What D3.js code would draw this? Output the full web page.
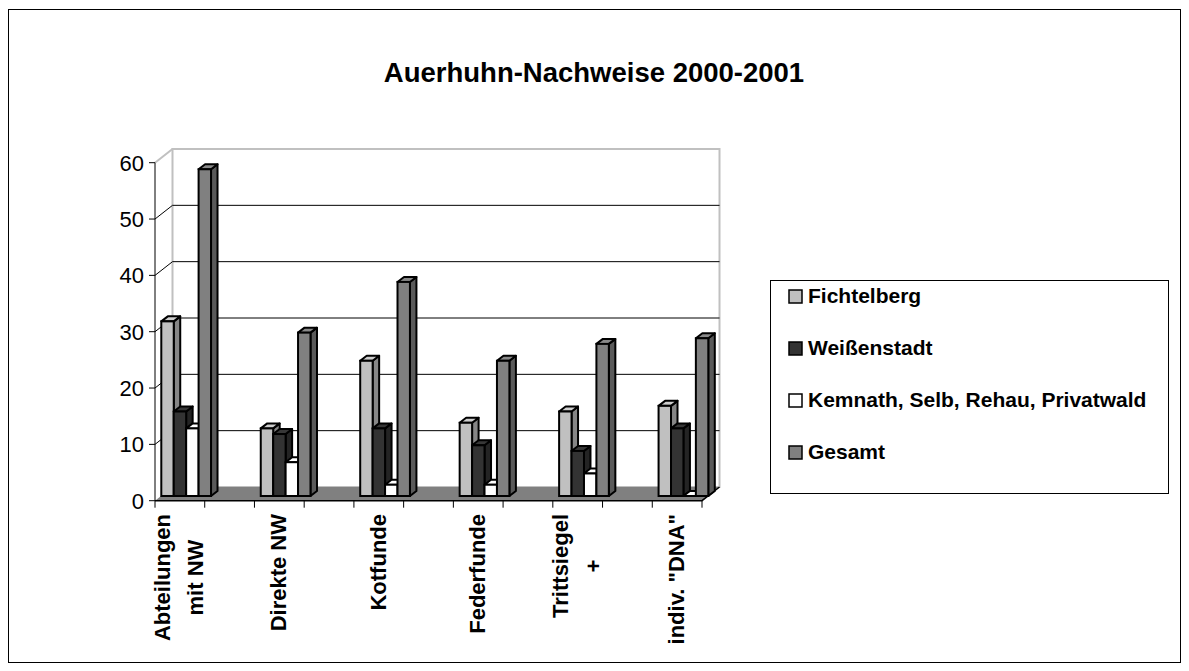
<!DOCTYPE html>
<html>
<head>
<meta charset="utf-8">
<script src="https://cdn.jsdelivr.net/npm/d3@7"></script>
<style>
  body { margin: 0; background: #fff; }
  svg text { font-family: "Liberation Sans", Arial, sans-serif; fill: #000; }
</style>
</head>
<body>
<div id="chart"></div>
<script>
// data
const categories = [["Abteilungen", "mit NW"], ["Direkte NW"], ["Kotfunde"], ["Federfunde"], ["Trittsiegel", "+"], ['indiv. "DNA"']];
const seriesNames = ["Fichtelberg", "Weißenstadt", "Kemnath, Selb, Rehau, Privatwald", "Gesamt"];
const fichtelberg = [31, 12, 24, 13, 15, 16];
const weissenstadt = [15, 11, 12, 9, 8, 12];
const kemnath = [12, 6, 2, 2, 4, 0];
const gesamt = [58, 29, 38, 24, 27, 28];
const yTicks = [0, 10, 20, 30, 40, 50, 60];
const colors = ["#c0c0c0", "#333333", "#ffffff", "#808080"];

const series = [fichtelberg, weissenstadt, kemnath, gesamt];

const W = 1189, H = 671;

const svg = d3.select("#chart").append("svg")
  .attr("width", W).attr("height", H);

// outer frame
svg.append("rect")
  .attr("x", 8.5).attr("y", 9.5)
  .attr("width", 1172).attr("height", 653)
  .attr("fill", "none").attr("stroke", "#000").attr("stroke-width", 1);

// title
svg.append("text")
  .attr("x", 594).attr("y", 82)
  .attr("text-anchor", "middle")
  .style("font-size", "27.5px").style("font-weight", "bold")
  .text("Auerhuhn-Nachweise 2000-2001");

// front plane scales
const x = d3.scaleBand()
  .domain(d3.range(categories.length))
  .range([155, 702])
  .paddingInner(0.5)
  .paddingOuter(0);
const y = d3.scaleLinear().domain([0, 60]).range([500.7, 162.7]);

// depth offsets: back wall, bar plane, bar thickness
const DX = 17.5, DY = -13.7;
const BX = 6.3, BY = -4.7;
const TX = 6.5, TY = -5;

const x0 = x.range()[0], x1 = x.range()[1];

// back wall
svg.append("rect")
  .attr("x", x0 + DX).attr("y", y(60) + DY)
  .attr("width", x1 - x0).attr("height", y(0) - y(60))
  .attr("fill", "#fff").attr("stroke", "#c0c0c0").attr("stroke-width", 2);

// gridlines on back wall and side wall
const grid = yTicks.filter(d => d > 0 && d < 60);
svg.append("g").selectAll("line").data(grid).enter().append("line")
  .attr("x1", x0 + DX).attr("x2", x1 + DX)
  .attr("y1", d => y(d) + DY).attr("y2", d => y(d) + DY)
  .attr("stroke", "#000").attr("stroke-width", 1);
svg.append("g").selectAll("line").data(yTicks.filter(d => d > 0)).enter().append("line")
  .attr("x1", x0).attr("x2", x0 + DX)
  .attr("y1", d => y(d)).attr("y2", d => y(d) + DY)
  .attr("stroke", d => d === 60 ? "#c0c0c0" : "#000")
  .attr("stroke-width", d => d === 60 ? 2 : 1);

// floor
svg.append("path")
  .attr("d", "M" + x0 + "," + y(0) + "L" + x1 + "," + y(0) +
    "L" + (x1 + DX) + "," + (y(0) + DY) + "L" + (x0 + DX) + "," + (y(0) + DY) + "Z")
  .attr("fill", "#808080").attr("stroke", "none");
svg.append("path")
  .attr("d", "M" + x0 + "," + y(0) + "L" + x1 + "," + y(0) + "L" + (x1 + DX) + "," + (y(0) + DY))
  .attr("fill", "none").attr("stroke", "#000").attr("stroke-width", 1.5);

// bars
const bw = x.bandwidth() / series.length;
const yb = v => y(v) + BY;
const bars = [];
categories.forEach((c, i) => {
  series.forEach((s, j) => {
    bars.push({ i: i, j: j, v: s[i] });
  });
});

const barG = svg.append("g").selectAll("g").data(bars).enter().append("g");
barG.each(function (d) {
  const g = d3.select(this);
  const left = x(d.i) + BX + d.j * bw;
  const right = left + bw;
  const top = yb(d.v), bot = yb(0);
  const base = d3.color(colors[d.j]);
  // side face
  g.append("path")
    .attr("d", "M" + right + "," + bot + "L" + (right + TX) + "," + (bot + TY) +
      "L" + (right + TX) + "," + (top + TY) + "L" + right + "," + top + "Z")
    .attr("fill", base.darker(1)).attr("stroke", "#000").attr("stroke-width", 2)
    .attr("stroke-linejoin", "round");
  // top face
  g.append("path")
    .attr("d", "M" + left + "," + top + "L" + (left + TX) + "," + (top + TY) +
      "L" + (right + TX) + "," + (top + TY) + "L" + right + "," + top + "Z")
    .attr("fill", base.brighter(0.2)).attr("stroke", "#000").attr("stroke-width", 2)
    .attr("stroke-linejoin", "round");
  // front face
  g.append("rect")
    .attr("x", left).attr("y", top)
    .attr("width", bw).attr("height", bot - top)
    .attr("fill", base).attr("stroke", "#000").attr("stroke-width", 2);
});

// y axis
const yAxis = svg.append("g");
yAxis.append("line")
  .attr("x1", x0).attr("x2", x0).attr("y1", y(0)).attr("y2", y(60))
  .attr("stroke", "#000").attr("stroke-width", 1);
yAxis.selectAll(".tick").data(yTicks).enter().append("line")
  .attr("x1", x0 - 6).attr("x2", x0)
  .attr("y1", d => y(d)).attr("y2", d => y(d))
  .attr("stroke", "#000");
yAxis.selectAll("text").data(yTicks).enter().append("text")
  .attr("x", x0 - 11)
  .attr("y", d => y(d) + 8)
  .attr("text-anchor", "end")
  .style("font-size", "22px")
  .text(d => d);

// x axis ticks at band edges
const xTicks = [];
categories.forEach((c, i) => { xTicks.push(x(i)); xTicks.push(x(i) + x.bandwidth()); });
svg.append("g").selectAll("line").data(xTicks).enter().append("line")
  .attr("x1", d => d).attr("x2", d => d)
  .attr("y1", y(0)).attr("y2", y(0) + 7)
  .attr("stroke", "#000");

// category labels, rotated
const labelTop = 514, lineGap = 33;
categories.forEach((lines, i) => {
  const cx = x(i) + x.bandwidth() / 2;
  const g = svg.append("g");
  const texts = lines.map((t, k) => {
    const bx = cx + (k - (lines.length - 1) / 2) * lineGap + 7;
    return g.append("text")
      .attr("transform", "translate(" + bx + "," + labelTop + ") rotate(-90)")
      .attr("text-anchor", "middle")
      .style("font-size", "22px").style("font-weight", "bold")
      .text(t);
  });
  const maxW = d3.max(texts, t => t.node().getComputedTextLength());
  texts.forEach(t => t.attr("x", -maxW / 2));
});

// legend
const legend = svg.append("g");
legend.append("rect")
  .attr("x", 770.5).attr("y", 280.5).attr("width", 398).attr("height", 213)
  .attr("fill", "#fff").attr("stroke", "#000");
const legendBase = [303, 355, 407, 459];
seriesNames.forEach((name, j) => {
  legend.append("rect")
    .attr("x", 789).attr("y", legendBase[j] - 13)
    .attr("width", 13).attr("height", 13)
    .attr("fill", colors[j]).attr("stroke", "#000").attr("stroke-width", 1.5);
  legend.append("text")
    .attr("x", 808).attr("y", legendBase[j])
    .style("font-size", "21px").style("font-weight", "bold")
    .text(name);
});
</script>
</body>
</html>
